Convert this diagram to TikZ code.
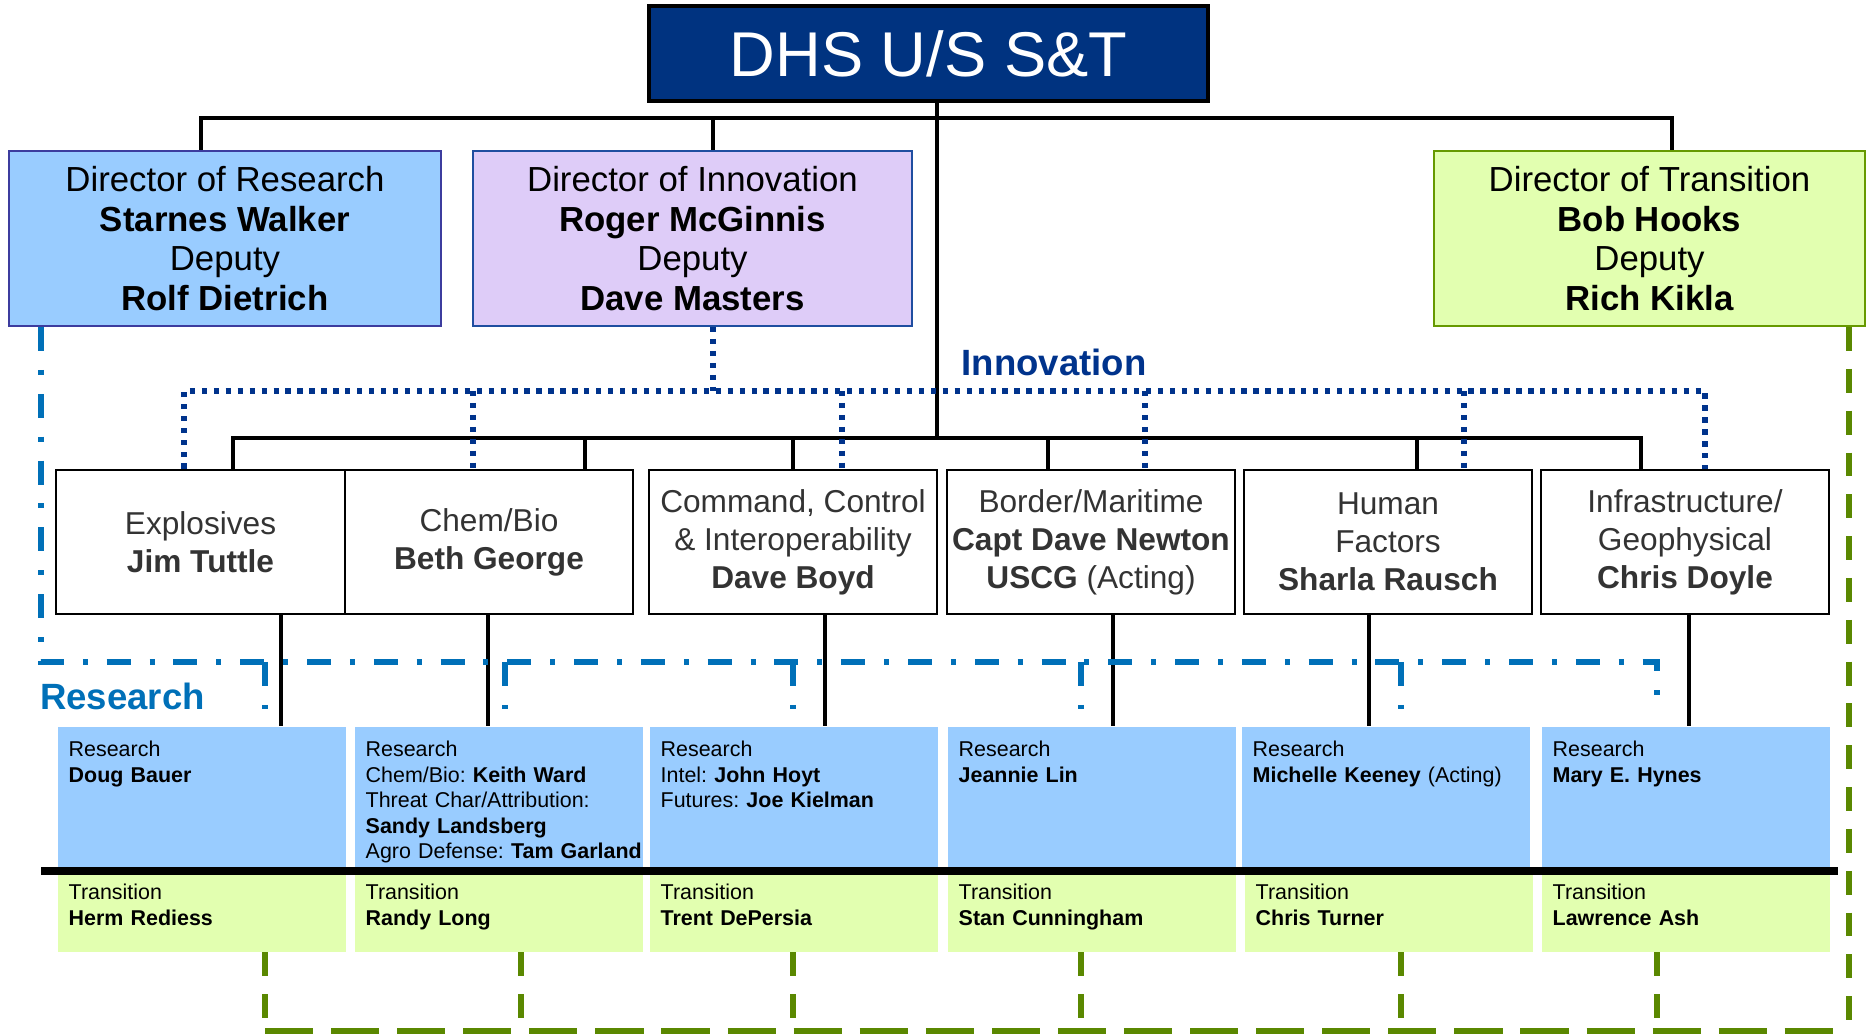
\documentclass[tikz,border=0pt]{standalone}
\usepackage{fontspec}
\setmainfont{Liberation Sans}
\usepackage{tikz}
\usepackage{xcolor}
\frenchspacing
\definecolor{dhsnavy}{RGB}{0,51,128}
\definecolor{dhsinnov}{RGB}{0,51,140}
\definecolor{dhsresblue}{RGB}{153,204,255}
\definecolor{dhslavender}{RGB}{222,204,248}
\definecolor{dhslime}{RGB}{226,255,176}
\definecolor{dhsgreen}{RGB}{90,136,0}
\definecolor{dhsolive}{RGB}{102,153,0}
\definecolor{dhsdashblue}{RGB}{0,112,184}
\definecolor{dhspurple}{RGB}{60,60,158}
\definecolor{dhsframe}{RGB}{31,78,160}
\tikzstyle{topbox} = [draw=black, line width=1pt, fill=dhsnavy, text=white, font=\fontsize{18}{21}\selectfont, minimum width=5.59cm, minimum height=0.95cm, inner sep=0pt]
\tikzstyle{dirbox} = [draw, line width=0.6pt, minimum height=1.75cm, align=center, font=\fontsize{9.9}{11.3}\selectfont, inner sep=0pt]
\tikzstyle{divbox} = [draw=black, line width=0.7pt, minimum width=2.88cm, minimum height=1.44cm, align=center, text=black!80, font=\fontsize{9}{10.8}\selectfont, inner sep=0pt]
\tikzstyle{resbox} = [fill=dhsresblue, anchor=north west, text width=2.66cm, inner xsep=0.11cm, inner ysep=0pt, text height=0.30cm, text depth=1.10cm, align=left, font=\fontsize{6.1}{7.25}\selectfont]
\tikzstyle{tranbox} = [fill=dhslime, anchor=north west, text width=2.66cm, inner xsep=0.11cm, inner ysep=0pt, text height=0.25cm, text depth=0.52cm, align=left, font=\fontsize{6.1}{7.25}\selectfont]
\tikzstyle{orgline} = [line width=1.1pt, color=black]
\tikzstyle{sepline} = [line width=2.3pt, color=black]
\tikzstyle{innovline} = [line width=1.5pt, color=dhsinnov, dash pattern=on 1.5pt off 1.9pt]
\tikzstyle{resline} = [line width=1.5pt, color=dhsdashblue, dash pattern=on 6.8pt off 5.4pt on 1.4pt off 5.4pt]
\tikzstyle{tranline} = [line width=1.7pt, color=dhsgreen, dash pattern=on 6.8pt off 5.1pt]
\tikzstyle{tranlong} = [line width=1.7pt, color=dhsgreen, dash pattern=on 13.7pt off 5.1pt]
\tikzstyle{grouplabel} = [font=\fontsize{10.4}{12}\selectfont\bfseries, inner sep=0pt]

\begin{document}
\begin{tikzpicture}
\useasboundingbox (0,0) rectangle (18.67,-10.34);

% Head and directors
\node[topbox] (top) at (9.285,-0.535) {DHS U/S S\&T};
\node[dirbox, draw=dhspurple, fill=dhsresblue, minimum width=4.32cm] (dres) at (2.25,-2.385) {Director of Research\\\textbf{Starnes Walker}\\Deputy\\\textbf{Rolf Dietrich}};
\node[dirbox, draw=dhsframe, fill=dhslavender, minimum width=4.39cm] (dinn) at (6.925,-2.385) {Director of Innovation\\\textbf{Roger McGinnis}\\Deputy\\\textbf{Dave Masters}};
\node[dirbox, draw=dhsolive, fill=dhslime, minimum width=4.31cm] (dtra) at (16.495,-2.385) {Director of Transition\\\textbf{Bob Hooks}\\Deputy\\\textbf{Rich Kikla}};

% Divisions
\node[divbox, minimum width=2.89cm] (expl) at (2.005,-5.42) {Explosives\\\textbf{Jim Tuttle}};
\node[divbox] (chem) at (4.89,-5.42) {Chem/Bio\\\textbf{Beth George}};
\node[divbox] (cci) at (7.93,-5.42) {Command, Control\\\& Interoperability\\\textbf{Dave Boyd}};
\node[divbox] (bord) at (10.91,-5.42) {Border/Maritime\\\textbf{Capt Dave Newton}\\\textbf{USCG} (Acting)};
\node[divbox] (hf) at (13.88,-5.42) {Human\\Factors\\\textbf{Sharla Rausch}};
\node[divbox] (infra) at (16.85,-5.42) {Infrastructure/\\Geophysical\\\textbf{Chris Doyle}};

% Research leads
\node[resbox] (rs1) at (0.57,-7.26) {Research\\\textbf{Doug Bauer}};
\node[resbox] (rs2) at (3.54,-7.26) {Research\\Chem/Bio: \textbf{Keith Ward}\\Threat Char/Attribution:\\\textbf{Sandy Landsberg}\\\mbox{Agro Defense: \textbf{Tam Garland}}};
\node[resbox] (rs3) at (6.49,-7.26) {Research\\Intel: \textbf{John Hoyt}\\Futures: \textbf{Joe Kielman}};
\node[resbox] (rs4) at (9.47,-7.26) {Research\\\textbf{Jeannie Lin}};
\node[resbox] (rs5) at (12.41,-7.26) {Research\\\textbf{Michelle Keeney} (Acting)};
\node[resbox] (rs6) at (15.41,-7.26) {Research\\\textbf{Mary E. Hynes}};

% Transition leads
\node[tranbox] (tr1) at (0.57,-8.74) {Transition\\\textbf{Herm Rediess}};
\node[tranbox] (tr2) at (3.54,-8.74) {Transition\\\textbf{Randy Long}};
\node[tranbox] (tr3) at (6.49,-8.74) {Transition\\\textbf{Trent DePersia}};
\node[tranbox] (tr4) at (9.47,-8.74) {Transition\\\textbf{Stan Cunningham}};
\node[tranbox] (tr5) at (12.44,-8.74) {Transition\\\textbf{Chris Turner}};
\node[tranbox] (tr6) at (15.41,-8.74) {Transition\\\textbf{Lawrence Ash}};

% Group labels
\node[grouplabel, text=dhsinnov] (innovlabel) at (10.54,-3.62) {Innovation};
\node[grouplabel, text=dhsdashblue] (reslabel) at (1.225,-6.96) {Research};

% Line of command
\draw[orgline] (2.01,-1.18 |- dres.north) |- (16.72,-1.18) -- (16.72,-1.18 |- dtra.north);
\draw[orgline] (7.13,-1.18) -- (7.13,-1.18 |- dinn.north);
\draw[orgline] (top.south -| 9.37,0) -- (9.37,-4.38);
\draw[orgline] (2.33,-4.38 |- expl.north) |- (16.41,-4.38) -- (16.41,-4.38 |- infra.north);
\draw[orgline] (5.85,-4.38) -- (5.85,-4.38 |- chem.north);
\draw[orgline] (7.93,-4.38) -- (7.93,-4.38 |- cci.north);
\draw[orgline] (10.48,-4.38) -- (10.48,-4.38 |- bord.north);
\draw[orgline] (14.17,-4.38) -- (14.17,-4.38 |- hf.north);
\draw[orgline] (expl.south -| 2.81,0) -- (2.81,0 |- rs1.north);
\draw[orgline] (chem.south -| 4.88,0) -- (4.88,0 |- rs2.north);
\draw[orgline] (cci.south -| 8.25,0) -- (8.25,0 |- rs3.north);
\draw[orgline] (bord.south -| 11.13,0) -- (11.13,0 |- rs4.north);
\draw[orgline] (hf.south -| 13.69,0) -- (13.69,0 |- rs5.north);
\draw[orgline] (infra.south -| 16.89,0) -- (16.89,0 |- rs6.north);

% Research / transition divider
\coordinate (sepl) at (0.41,-8.71);
\coordinate (sepr) at (18.38,-8.71);
\draw[sepline] (sepl) -- (sepr);

% Innovation links
\draw[innovline] (dinn.south -| 7.13,0) -- (7.13,-3.91);
\draw[innovline] (1.84,-3.91 |- expl.north) |- (17.05,-3.91) -- (17.05,-3.91 |- infra.north);
\draw[innovline] (4.73,-3.91) -- (4.73,-3.91 |- chem.north);
\draw[innovline] (8.42,-3.91) -- (8.42,-3.91 |- cci.north);
\draw[innovline] (11.45,-3.91) -- (11.45,-3.91 |- bord.north);
\draw[innovline] (14.64,-3.91) -- (14.64,-3.91 |- hf.north);

% Research links
\draw[resline, shorten >=0.17cm] (dres.south -| 0.41,0) |- (16.57,-6.62) -- (16.57,-6.62 |- rs6.north);
\draw[resline, shorten >=0.17cm] (2.65,-6.62) -- (2.65,-6.62 |- rs1.north);
\draw[resline, shorten >=0.17cm] (5.05,-6.62) -- (5.05,-6.62 |- rs2.north);
\draw[resline, shorten >=0.17cm] (7.93,-6.62) -- (7.93,-6.62 |- rs3.north);
\draw[resline, shorten >=0.17cm] (10.81,-6.62) -- (10.81,-6.62 |- rs4.north);
\draw[resline, shorten >=0.17cm] (14.01,-6.62) -- (14.01,-6.62 |- rs5.north);

% Transition links
\coordinate (trl) at (2.65,-10.31);
\coordinate (trr) at (18.49,-10.31);
\draw[tranlong] (trl) -- (trr);
\draw[tranline] (dtra.south -| trr) -- (trr);
\draw[tranline] (tr1.south -| trl) -- (trl);
\draw[tranline] (tr2.south -| 5.21,0) -- (5.21,0 |- trl);
\draw[tranline] (tr3.south -| 7.93,0) -- (7.93,0 |- trl);
\draw[tranline] (tr4.south -| 10.81,0) -- (10.81,0 |- trl);
\draw[tranline] (tr5.south -| 14.01,0) -- (14.01,0 |- trl);
\draw[tranline] (tr6.south -| 16.57,0) -- (16.57,0 |- trl);
\end{tikzpicture}
\end{document}
